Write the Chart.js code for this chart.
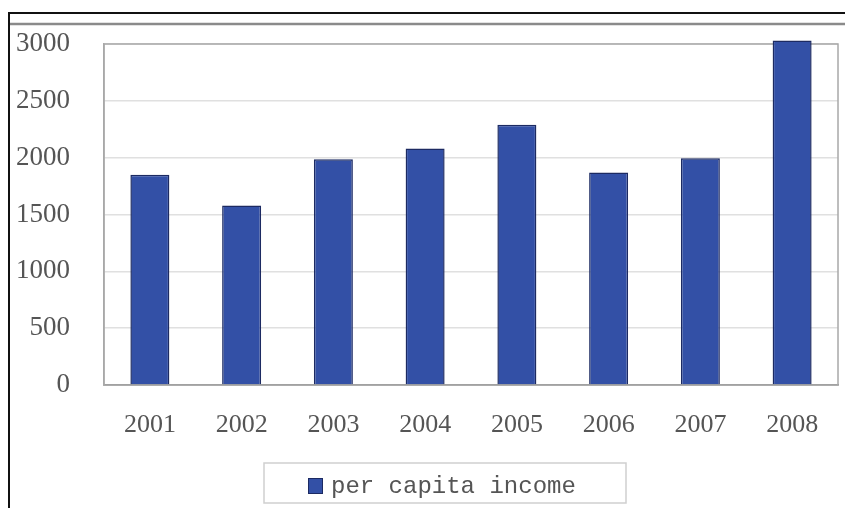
<!DOCTYPE html>
<html lang="en">
<head>
    <meta charset="UTF-8">
    <title>Per Capita Income</title>
    <script src="https://cdn.jsdelivr.net/npm/chart.js"></script>
    <style>
        html, body { margin: 0; padding: 0; background: #fff; }
        #wrap { width: 845px; height: 508px; position: relative; }
    </style>
</head>
<body>
<div id="wrap"><canvas id="incomeChart"></canvas></div>

<script>
    const years = ['2001', '2002', '2003', '2004', '2005', '2006', '2007', '2008'];
    const income = [1850, 1580, 1985, 2080, 2290, 1870, 1995, 3030];
    const seriesName = 'per capita income';

    const barFill = '#3350a6';
    const barEdge = '#1c2a62';
    const textGray = '#555';

    // outer frame, plot rectangle and boxed legend
    const framePlugin = {
        id: 'frame',
        beforeDatasetsDraw(chart) {
            const ctx = chart.ctx;
            const a = chart.chartArea;
            ctx.save();
            ctx.strokeStyle = '#a8a8a8';
            ctx.lineWidth = 1.5;
            ctx.strokeRect(a.left, a.top, a.right - a.left, a.bottom - a.top);
            ctx.restore();
        },
        afterDraw(chart) {
            const ctx = chart.ctx;
            ctx.save();
            // black border, top and left
            ctx.strokeStyle = '#111';
            ctx.lineWidth = 2;
            ctx.beginPath();
            ctx.moveTo(9, 508);
            ctx.lineTo(9, 13);
            ctx.lineTo(845, 13);
            ctx.stroke();
            // gray rule under the top border
            ctx.strokeStyle = '#8a8a8a';
            ctx.lineWidth = 2.5;
            ctx.beginPath();
            ctx.moveTo(10, 24);
            ctx.lineTo(845, 24);
            ctx.stroke();

            // legend box
            ctx.strokeStyle = '#cfcfcf';
            ctx.lineWidth = 1.5;
            ctx.strokeRect(264, 463, 362, 40);
            const ds = chart.data.datasets[0];
            ctx.fillStyle = ds.backgroundColor;
            ctx.fillRect(308, 478, 15, 16);
            ctx.strokeStyle = ds.borderColor;
            ctx.lineWidth = 1;
            ctx.strokeRect(308.5, 478.5, 14, 15);
            ctx.fillStyle = textGray;
            ctx.font = '24px "Liberation Mono", monospace';
            ctx.textBaseline = 'middle';
            ctx.fillText(ds.label, 331, 487);
            ctx.restore();
        }
    };

    const ctx = document.getElementById('incomeChart').getContext('2d');
    new Chart(ctx, {
        type: 'bar',
        data: {
            labels: years,
            datasets: [{
                label: seriesName,
                data: income,
                backgroundColor: barFill,
                borderColor: barEdge,
                borderWidth: 1.5,
                categoryPercentage: 1,
                barPercentage: 0.425,
                clip: false
            }]
        },
        options: {
            responsive: true,
            maintainAspectRatio: false,
            animation: false,
            layout: { padding: { top: 44, right: 7, left: 0, bottom: 0 } },
            plugins: {
                legend: { display: false },
                tooltip: { enabled: false }
            },
            scales: {
                x: {
                    grid: { display: false, drawTicks: false },
                    border: { color: '#8c8c8c', width: 1.5 },
                    ticks: {
                        color: textGray,
                        padding: 25,
                        font: { family: '"Liberation Serif", serif', size: 26 }
                    },
                    afterFit(scale) {
                        scale.height = 123;
                        scale.paddingLeft = 0;
                        scale.paddingRight = 0;
                    }
                },
                y: {
                    min: 0,
                    max: 3000,
                    grid: { color: '#e0e0e0', lineWidth: 1.5, drawTicks: false },
                    border: { color: '#a8a8a8', width: 1.5 },
                    ticks: {
                        stepSize: 500,
                        color: textGray,
                        padding: 34,
                        font: { family: '"Liberation Serif", serif', size: 27 },
                        callback: (v) => String(v)
                    },
                    afterFit(scale) {
                        scale.width = 104;
                        scale.paddingTop = 0;
                        scale.paddingBottom = 0;
                    }
                }
            }
        },
        plugins: [framePlugin]
    });
</script>
</body>
</html>
